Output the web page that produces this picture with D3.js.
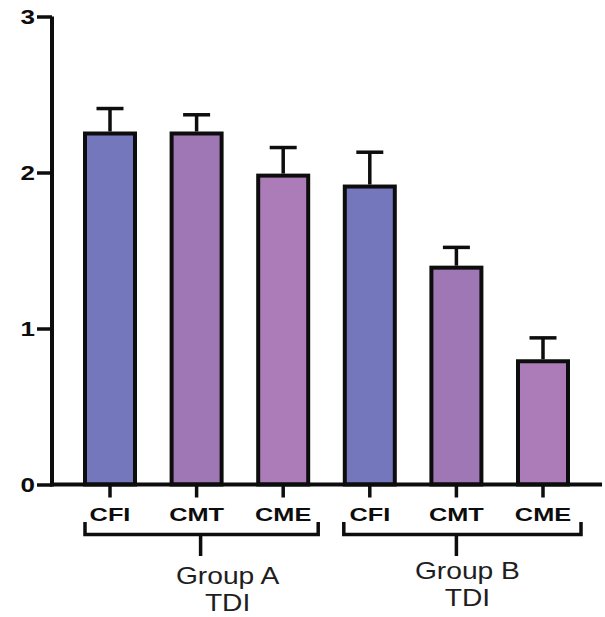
<!DOCTYPE html>
<html>
<head>
<meta charset="utf-8">
<script src="https://cdn.jsdelivr.net/npm/d3@7"></script>
<style>
  html, body { margin: 0; padding: 0; background: #fff; }
  svg { display: block; }
</style>
</head>
<body>
<svg id="chart" width="605" height="617"></svg>
<script>
// TDI scores per cleaning method, two groups
const groups = ["Group A", "Group B"];
const methods = ["CFI", "CMT", "CME"];
const meansA = [2.25, 2.25, 1.98];
const meansB = [1.91, 1.39, 0.79];
const sdA = [0.16, 0.12, 0.18];
const sdB = [0.22, 0.13, 0.15];
const yTicks = [0, 1, 2, 3];
const methodColors = ["#7577bd", "#a077b5", "#ab7cb8"];

const rows = [];
groups.forEach((g, gi) => {
  const means = gi === 0 ? meansA : meansB;
  const sds = gi === 0 ? sdA : sdB;
  methods.forEach((m, mi) => {
    rows.push({ key: g + "-" + m, group: g, method: m, mi, mean: means[mi], sd: sds[mi] });
  });
});

const svg = d3.select("#chart");
const INK = "#0d0d0d";
const SX = 1.37; // horizontal stretch of the lettering

const y = d3.scaleLinear().domain([0, 3]).range([484.5, 16.5]);
const x = d3.scalePoint().domain(rows.map(d => d.key)).range([110, 543]);
const barW = 50;

// bars
svg.append("g").selectAll("rect").data(rows).join("rect")
  .attr("x", d => x(d.key) - barW / 2)
  .attr("y", d => y(d.mean))
  .attr("width", barW)
  .attr("height", d => y(0) - y(d.mean))
  .attr("fill", d => methodColors[d.mi])
  .attr("stroke", INK)
  .attr("stroke-width", 4);

// error bars (upper only)
const err = svg.append("g").attr("stroke", INK).attr("stroke-width", 3.5);
err.selectAll("line.stem").data(rows).join("line").attr("class", "stem")
  .attr("x1", d => x(d.key)).attr("x2", d => x(d.key))
  .attr("y1", d => y(d.mean) - 2).attr("y2", d => y(d.mean + d.sd));
err.selectAll("line.cap").data(rows).join("line").attr("class", "cap")
  .attr("x1", d => x(d.key) - 13.5).attr("x2", d => x(d.key) + 13.5)
  .attr("y1", d => y(d.mean + d.sd)).attr("y2", d => y(d.mean + d.sd));

// y axis
const yAxis = svg.append("g").attr("transform", "translate(52,0)")
  .call(d3.axisLeft(y).tickValues(yTicks).tickFormat(d3.format("d")).tickSize(15).tickPadding(0));
yAxis.select(".domain").attr("d", `M0,${y(3)}V${y(0) + 2}`).attr("stroke", INK).attr("stroke-width", 4);
yAxis.selectAll(".tick line").attr("stroke", INK).attr("stroke-width", 3.5);
yAxis.selectAll(".tick text")
  .attr("x", 0).attr("dy", null).attr("dominant-baseline", "central")
  .attr("text-anchor", "end")
  .attr("transform", `translate(-17,0) scale(1.3,1)`)
  .style("font-family", "'Liberation Sans', Arial, sans-serif")
  .style("font-weight", "bold").style("font-size", "20px").attr("fill", INK);

// x axis baseline and ticks
svg.append("line")
  .attr("x1", 50).attr("x2", 602).attr("y1", y(0)).attr("y2", y(0))
  .attr("stroke", INK).attr("stroke-width", 4);
svg.append("g").attr("stroke", INK).attr("stroke-width", 3.5)
  .selectAll("line").data(rows).join("line")
  .attr("x1", d => x(d.key)).attr("x2", d => x(d.key))
  .attr("y1", y(0)).attr("y2", y(0) + 13);

// method labels
svg.append("g").selectAll("text").data(rows).join("text")
  .attr("transform", d => `translate(${x(d.key)},520.5) scale(${SX},1)`)
  .attr("text-anchor", "middle")
  .style("font-family", "'Liberation Sans', Arial, sans-serif")
  .style("font-weight", "bold").style("font-size", "18.5px")
  .attr("fill", INK)
  .text(d => d.method);

// group brackets and titles
const bracketGeom = [
  { left: 2, right: 8, tick: 4, labelDx: 27, base: 584 },
  { left: 1, right: 11, tick: 0, labelDx: 11, base: 579 }
];
groups.forEach((g, gi) => {
  const keys = rows.filter(r => r.group === g).map(r => r.key);
  const geo = bracketGeom[gi];
  const x0 = x(keys[0]) - barW / 2 - 2 + geo.left;
  const x1 = x(keys[keys.length - 1]) + barW / 2 + 2 + geo.right;
  const xm = x(keys[1]) + geo.tick;
  svg.append("path")
    .attr("d", `M${x0},522V534.5H${x1}V522M${xm},534.5V556`)
    .attr("fill", "none").attr("stroke", INK).attr("stroke-width", 3.5);
  const t = svg.append("text")
    .attr("transform", `translate(${xm + geo.labelDx},${geo.base}) scale(1.2,1)`)
    .attr("text-anchor", "middle")
    .style("font-family", "'Liberation Sans', Arial, sans-serif")
    .style("font-size", "23.5px").attr("fill", "#1e1e1e");
  t.append("tspan").attr("x", 0).attr("y", 0).text(g);
  t.append("tspan").attr("x", 0).attr("y", 27).text("TDI");
});
</script>
</body>
</html>
